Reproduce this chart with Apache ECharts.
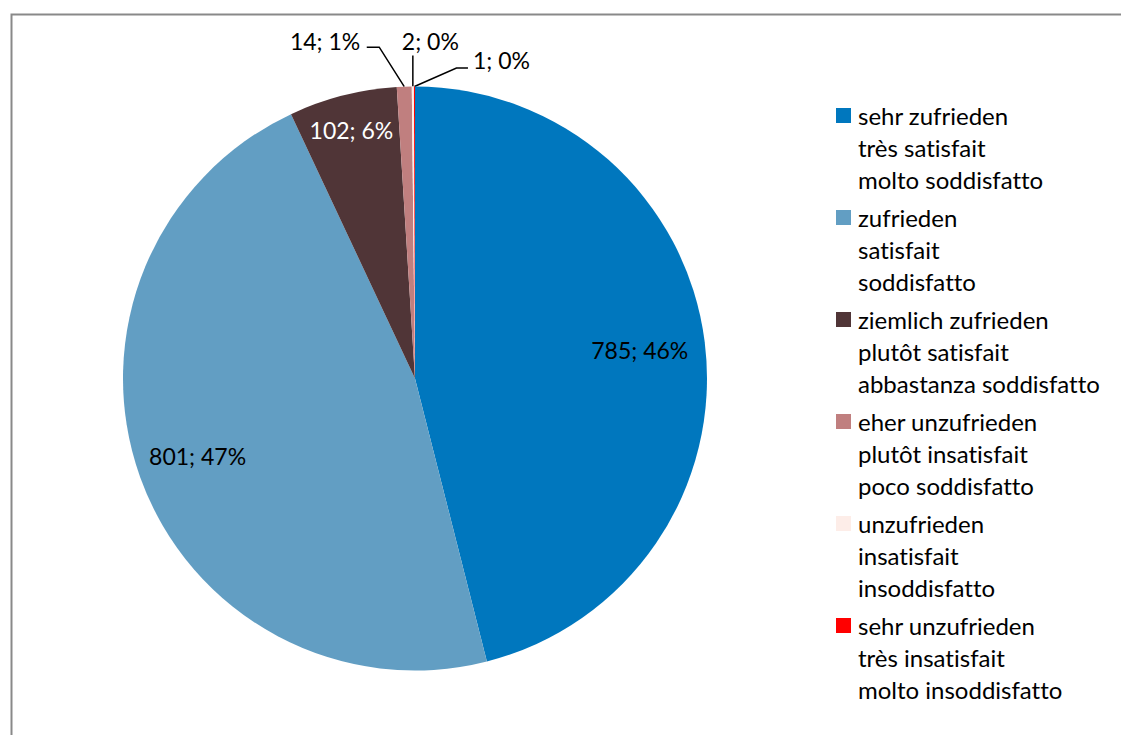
<!DOCTYPE html>
<html><head><meta charset="utf-8">
<script src="https://cdn.jsdelivr.net/npm/echarts@6/dist/echarts.min.js"></script>
<style>html,body{margin:0;padding:0;background:#fff}#c{width:1121px;height:735px}
#c text{font-variant-ligatures:none;font-feature-settings:"liga" 0,"clig" 0}</style>
</head><body><div id="c"></div>
<script>
// ---- data ----
const categories = [
  'sehr zufrieden\ntrès satisfait\nmolto soddisfatto',
  'zufrieden\nsatisfait\nsoddisfatto',
  'ziemlich zufrieden\nplutôt satisfait\nabbastanza soddisfatto',
  'eher unzufrieden\nplutôt insatisfait\npoco soddisfatto',
  'unzufrieden\ninsatisfait\ninsoddisfatto',
  'sehr unzufrieden\ntrès insatisfait\nmolto insoddisfatto'
];
const values = [785, 801, 102, 14, 2, 1];

// ---- styles / layout ----
const colors = ['#0077BE', '#629EC3', '#503537', '#C07F7F', '#FDEDE8', '#FF0000'];
const labelColors = ['#000', '#000', '#fff', '#000', '#000', '#000'];
const CX = 415, CY = 378.5, R = 292;
const FONT = 'Lato';
const FS = 23;
const insideRadius = {0: 0.76, 1: 0.775, 2: 0.86};
const outsideLeader = {
  3: {mid: [-25, -39.5], end: [-37.5, -39.5], text: [-44, -46], align: 'right'},
  4: {mid: [0, -31], end: [0, -31], text: [-11, -46], align: 'left'},
  5: {mid: [42, -18.5], end: [53.5, -18.5], text: [58.5, -26.5], align: 'left'}
};

const chart = echarts.init(document.getElementById('c'), null, {renderer: 'svg'});
const seriesData = values.map((v, i) => {
  const inside = insideRadius[i] != null;
  return {
    name: categories[i],
    value: v,
    itemStyle: {color: colors[i]},
    label: {position: inside ? 'inside' : 'outside', color: labelColors[i]},
    labelLine: {show: !inside}
  };
});

chart.setOption({
  animation: false,
  backgroundColor: '#fff',
  graphic: [{
    type: 'rect', left: 9, top: 12, silent: true,
    shape: {x: 0, y: 0, width: 1300, height: 900},
    style: {fill: 'none', stroke: '#898989', lineWidth: 2}
  }],
  legend: {
    orient: 'vertical',
    left: 836,
    top: 35.5,
    padding: 0,
    itemWidth: 15,
    itemHeight: 15,
    itemGap: -58,
    icon: 'rect',
    data: categories,
    formatter: n => '\n\n' + n,
    textStyle: {fontFamily: FONT, fontSize: 24, lineHeight: 32, color: '#000', padding: [0, 0, 0, 2]},
    selectedMode: false
  },
  series: [{
    type: 'pie',
    center: [CX, CY],
    radius: [0, R],
    startAngle: 90,
    clockwise: true,
    avoidLabelOverlap: false,
    percentPrecision: 0,
    itemStyle: {borderWidth: 0},
    label: {
      formatter: '{c}; {d}%',
      fontFamily: FONT,
      fontSize: FS
    },
    labelLine: {lineStyle: {color: '#000', width: 1.5}, length: 20, length2: 10},
    labelLayout: function (p) {
      const i = p.dataIndex;
      if (insideRadius[i] != null) {
        const r = p.labelRect;
        const lx = r.x + r.width / 2, ly = r.y + r.height / 2;
        const f = 2 * insideRadius[i] - 1;
        return {dx: (lx - CX) * f, dy: (ly - CY) * f};
      }
      const L = outsideLeader[i];
      const e = p.labelLinePoints[0];
      return {
        x: e[0] + L.text[0], y: e[1] + L.text[1],
        align: L.align, verticalAlign: 'middle',
        labelLinePoints: [[e[0], e[1]], [e[0] + L.mid[0], e[1] + L.mid[1]], [e[0] + L.end[0], e[1] + L.end[1]]]
      };
    },
    data: seriesData
  }]
});
</script></body></html>
